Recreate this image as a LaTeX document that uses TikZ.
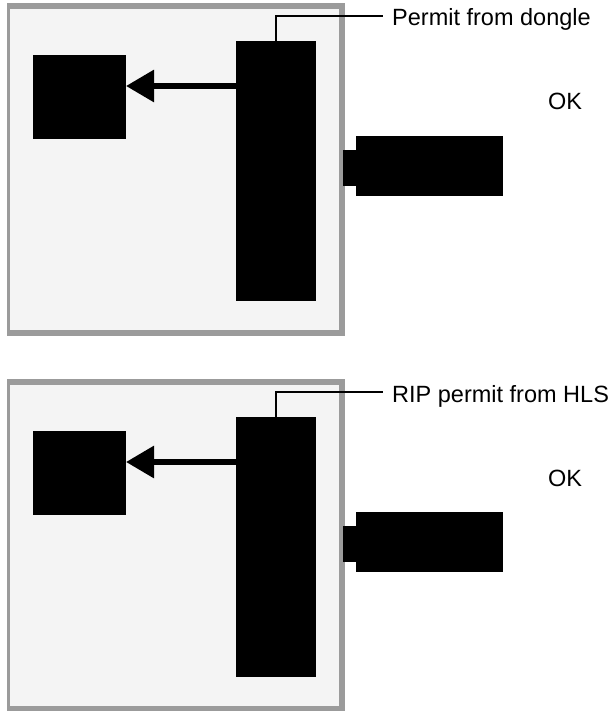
\documentclass[tikz,border=0pt]{standalone}
\usepackage{fontspec}
\setmainfont{Liberation Sans}
\usetikzlibrary{arrows.meta, positioning}

\definecolor{casegray}{HTML}{9B9B9B}
\definecolor{panelgray}{HTML}{F4F4F4}

\begin{document}
\begin{tikzpicture}[x=1pt, y=-1pt,
        block/.style={fill=black, inner sep=0pt, outer sep=0pt, anchor=north west},
        leader/.style={line width=1.3pt},
        permit/.style={line width=6pt, -{Triangle[length=28pt, width=31pt]}},
        lbl/.style={font=\fontsize{23.5}{26}\selectfont, inner sep=0pt, anchor=base west}]
    \useasboundingbox (0,0) rectangle (614,711);
    % two panels, the second one 376 lower
    \foreach \dy/\txt in {0/Permit from dongle, 376/RIP permit from HLS} {
        \begin{scope}[shift={(0,\dy)}]
            \fill[casegray] (7,3) rectangle (345,336);
            \fill[panelgray] (10,9) rectangle (339,330);
            \node[block, minimum width=93pt, minimum height=84pt] (store) at (33,55) {};
            \node[block, minimum width=80pt, minimum height=260pt] (reader) at (236,41) {};
            \node[block, minimum width=13pt, minimum height=36pt] (plug) at (343,150) {};
            \node[block, minimum width=147pt, minimum height=60pt] (dongle) at (356,136) {};
            \coordinate (flow) at (0,86);
            \draw[permit] (reader.west |- flow) -- (store.east |- flow);
            \coordinate (elbow) at (383,16);
            \draw[leader] (reader.north) |- (elbow);
            \node[lbl] (source) at (392,26) {\txt};
            \node[lbl] (status) at (548,110) {OK};
        \end{scope}
    }
\end{tikzpicture}
\end{document}
